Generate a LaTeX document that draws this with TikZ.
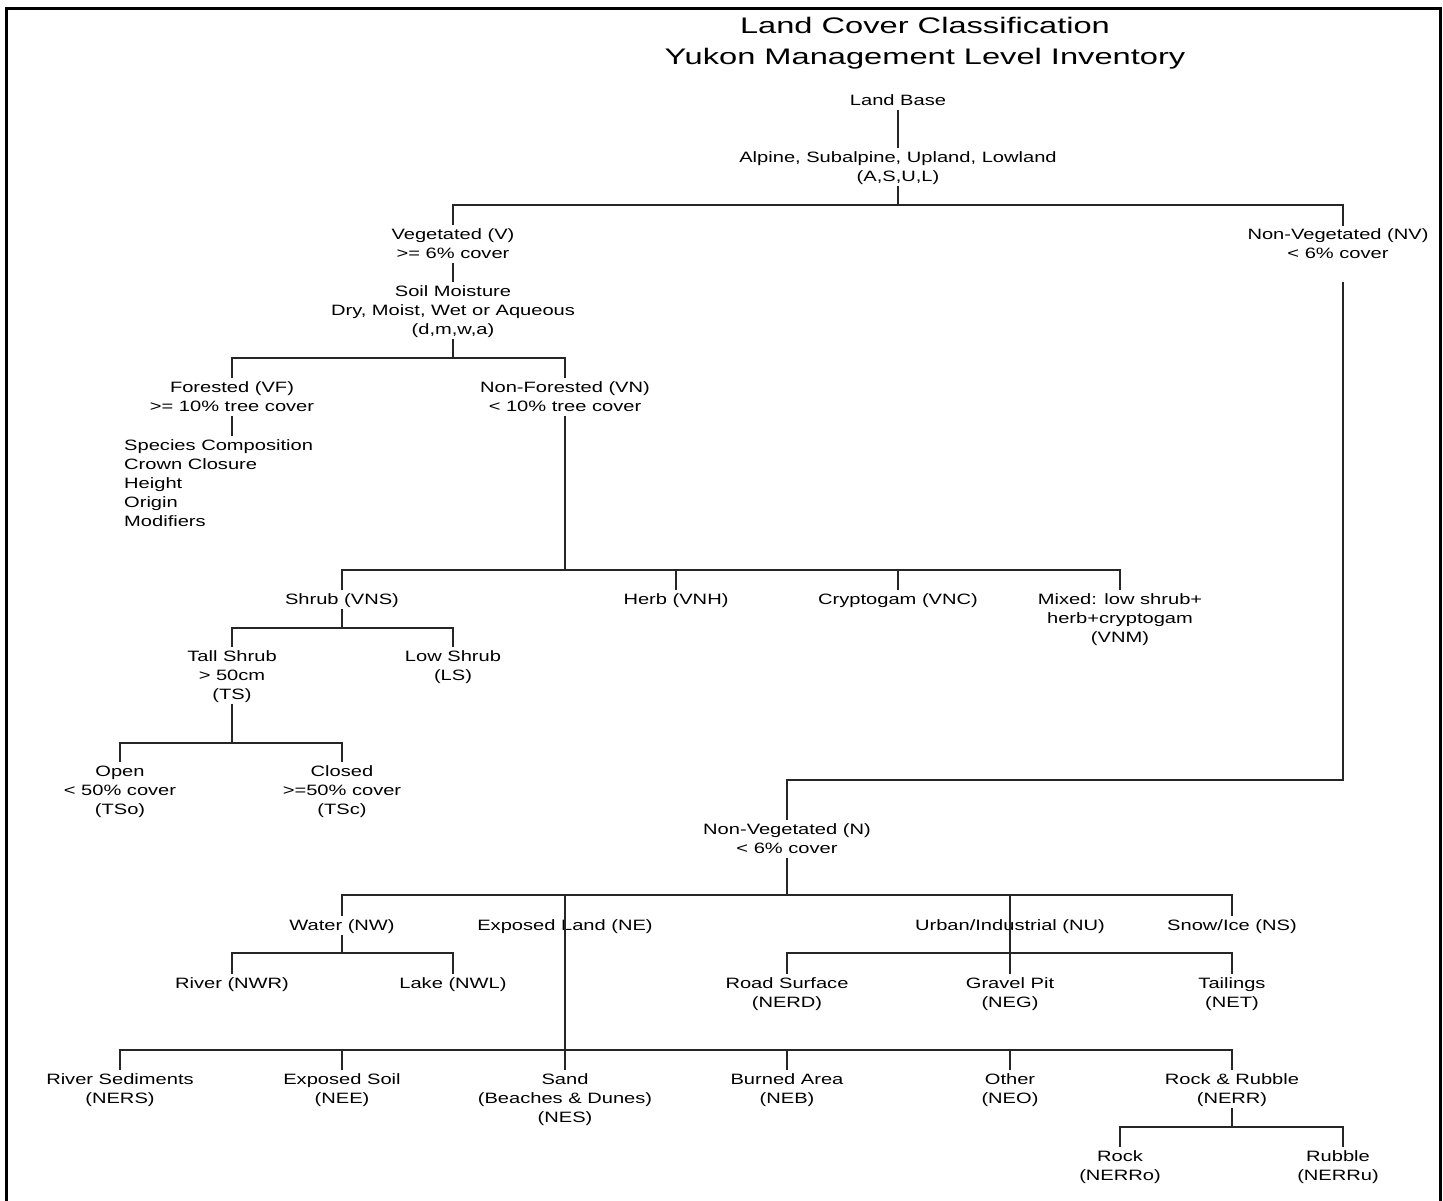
\documentclass[tikz,border=0pt]{standalone}
\usepackage{fontspec}
\setmainfont{Liberation Sans}[FakeStretch=1.34]
\newfontfamily\titlefont{Liberation Sans}[FakeStretch=1.45]
\newcommand\sx{\rule[-4pt]{0pt}{18pt}}
\begin{document}
\begin{tikzpicture}[x=1pt,y=-1pt,
  lbl/.style={anchor=north, inner xsep=0pt, inner ysep=0.5pt, align=center,
    font=\fontsize{15}{19}\selectfont},
  lbll/.style={lbl, anchor=north west, align=left},
  conn/.style={line width=1.4pt, draw=black!85},
  frame/.style={line width=3pt, draw=black}]
\useasboundingbox (0,0) rectangle (1443,1201);
\draw[frame] (6.5,1210) -- (6.5,8.8) -- (1440.8,8.8) -- (1440.8,1210);

\node[anchor=center, align=center, inner sep=0pt, font=\titlefont\fontsize{22.5}{31}\selectfont] (title) at (925,43)
  {Land Cover Classification\\Yukon Management Level Inventory};

% nodes
\node[lbl] (lb) at (898,91) {\sx Land Base\sx};
\node[lbl] (asul) at (898,148) {\sx Alpine, Subalpine, Upland, Lowland\\(A,S,U,L)\sx};
\node[lbl] (veg) at (453,225) {\sx Vegetated (V)\\>= 6\% cover\sx};
\node[lbl] (nv) at (1338,225) {\sx Non-Vegetated (NV)\\< 6\% cover\sx};
\node[lbl] (soil) at (453,282) {\sx Soil Moisture\\Dry, Moist, Wet or Aqueous\\(d,m,w,a)\sx};
\node[lbl] (vf) at (232,378) {\sx Forested (VF)\\>= 10\% tree cover\sx};
\node[lbl] (vn) at (565,378) {\sx Non-Forested (VN)\\< 10\% tree cover\sx};
\node[lbll] (spec) at (124,436) {\sx Species Composition\\Crown Closure\\Height\\Origin\\Modifiers\sx};
\node[lbl] (vns) at (342,590) {\sx Shrub (VNS)\sx};
\node[lbl] (vnh) at (676,590) {\sx Herb (VNH)\sx};
\node[lbl] (vnc) at (898,590) {\sx Cryptogam (VNC)\sx};
\node[lbl] (vnm) at (1120,590) {\sx Mixed: low shrub+\\herb+cryptogam\\(VNM)\sx};
\node[lbl] (ts) at (232,647) {\sx Tall Shrub\\> 50cm\\(TS)\sx};
\node[lbl] (ls) at (453,647) {\sx Low Shrub\\(LS)\sx};
\node[lbl] (tso) at (120,762) {\sx Open\\< 50\% cover\\(TSo)\sx};
\node[lbl] (tsc) at (342,762) {\sx Closed\\>=50\% cover\\(TSc)\sx};
\node[lbl] (n) at (787,820) {\sx Non-Vegetated (N)\\< 6\% cover\sx};
\node[lbl] (nw) at (342,916) {\sx Water (NW)\sx};
\node[lbl] (ne) at (565,916) {\sx Exposed Land (NE)\sx};
\node[lbl] (nu) at (1010,916) {\sx Urban/Industrial (NU)\sx};
\node[lbl] (ns) at (1232,916) {\sx Snow/Ice (NS)\sx};
\node[lbl] (nwr) at (232,974) {\sx River (NWR)\sx};
\node[lbl] (nwl) at (453,974) {\sx Lake (NWL)\sx};
\node[lbl] (nerd) at (787,974) {\sx Road Surface\\(NERD)\sx};
\node[lbl] (neg) at (1010,974) {\sx Gravel Pit\\(NEG)\sx};
\node[lbl] (net) at (1232,974) {\sx Tailings\\(NET)\sx};
\node[lbl] (ners) at (120,1070) {\sx River Sediments\\(NERS)\sx};
\node[lbl] (nee) at (342,1070) {\sx Exposed Soil\\(NEE)\sx};
\node[lbl] (nes) at (565,1070) {\sx Sand\\(Beaches \& Dunes)\\(NES)\sx};
\node[lbl] (neb) at (787,1070) {\sx Burned Area\\(NEB)\sx};
\node[lbl] (neo) at (1010,1070) {\sx Other\\(NEO)\sx};
\node[lbl] (nerr) at (1232,1070) {\sx Rock \& Rubble\\(NERR)\sx};
\node[lbl] (nerro) at (1120,1147) {\sx Rock\\(NERRo)\sx};
\node[lbl] (nerru) at (1338,1147) {\sx Rubble\\(NERRu)\sx};

% junctions
\coordinate (j1) at (898,205);
\coordinate (nvtop) at (1343,226);
\coordinate (nvbot) at (1343,282);
\coordinate (j2) at (453,358);
\coordinate (j3) at (565,570);
\coordinate (j4) at (342,628);
\coordinate (j5) at (232,743);
\coordinate (j6) at (1343,780);
\coordinate (j7) at (787,895);
\coordinate (j8) at (565,895);
\coordinate (j9) at (565,1050);
\coordinate (j10) at (1010,895);
\coordinate (j11) at (342,953);
\coordinate (j12) at (1010,953);
\coordinate (j13) at (1232,1127);
\coordinate (rutop) at (1343,1147);

% connectors
\draw[conn] (lb.south) -- (asul.north);
\draw[conn] (asul.south) -- (j1);
\draw[conn] (veg.north) |- (j1) -| (nvtop);
\draw[conn] (veg.south) -- (soil.north);
\draw[conn] (soil.south) -- (j2);
\draw[conn] (vf.north) |- (j2) -| (vn.north);
\draw[conn] (vf.south) -- (vf.south |- spec.north);
\draw[conn] (vn.south) -- (j3);
\draw[conn] (vns.north) |- (j3) -| (vnm.north);
\draw[conn] (vnh.north) -- (vnh.north |- j3);
\draw[conn] (vnc.north) -- (vnc.north |- j3);
\draw[conn] (vns.south) -- (j4);
\draw[conn] (ts.north) |- (j4) -| (ls.north);
\draw[conn] (ts.south) -- (j5);
\draw[conn] (tso.north) |- (j5) -| (tsc.north);
\draw[conn] (nvbot) -- (j6) -| (n.north);
\draw[conn] (n.south) -- (j7);
\draw[conn] (nw.north) |- (j7) -| (ns.north);
\draw[conn] (j8) -- (j9);
\draw[conn] (j10) -- (neg.north);
\draw[conn] (nw.south) -- (j11);
\draw[conn] (nwr.north) |- (j11) -| (nwl.north);
\draw[conn] (nerd.north) |- (j12) -| (net.north);
\draw[conn] (ners.north) |- (j9) -| (nerr.north);
\draw[conn] (nee.north) -- (nee.north |- j9);
\draw[conn] (j9) -- (nes.north);
\draw[conn] (neb.north) -- (neb.north |- j9);
\draw[conn] (neo.north) -- (neo.north |- j9);
\draw[conn] (nerr.south) -- (j13);
\draw[conn] (nerro.north) |- (j13) -| (rutop);
\end{tikzpicture}
\end{document}
